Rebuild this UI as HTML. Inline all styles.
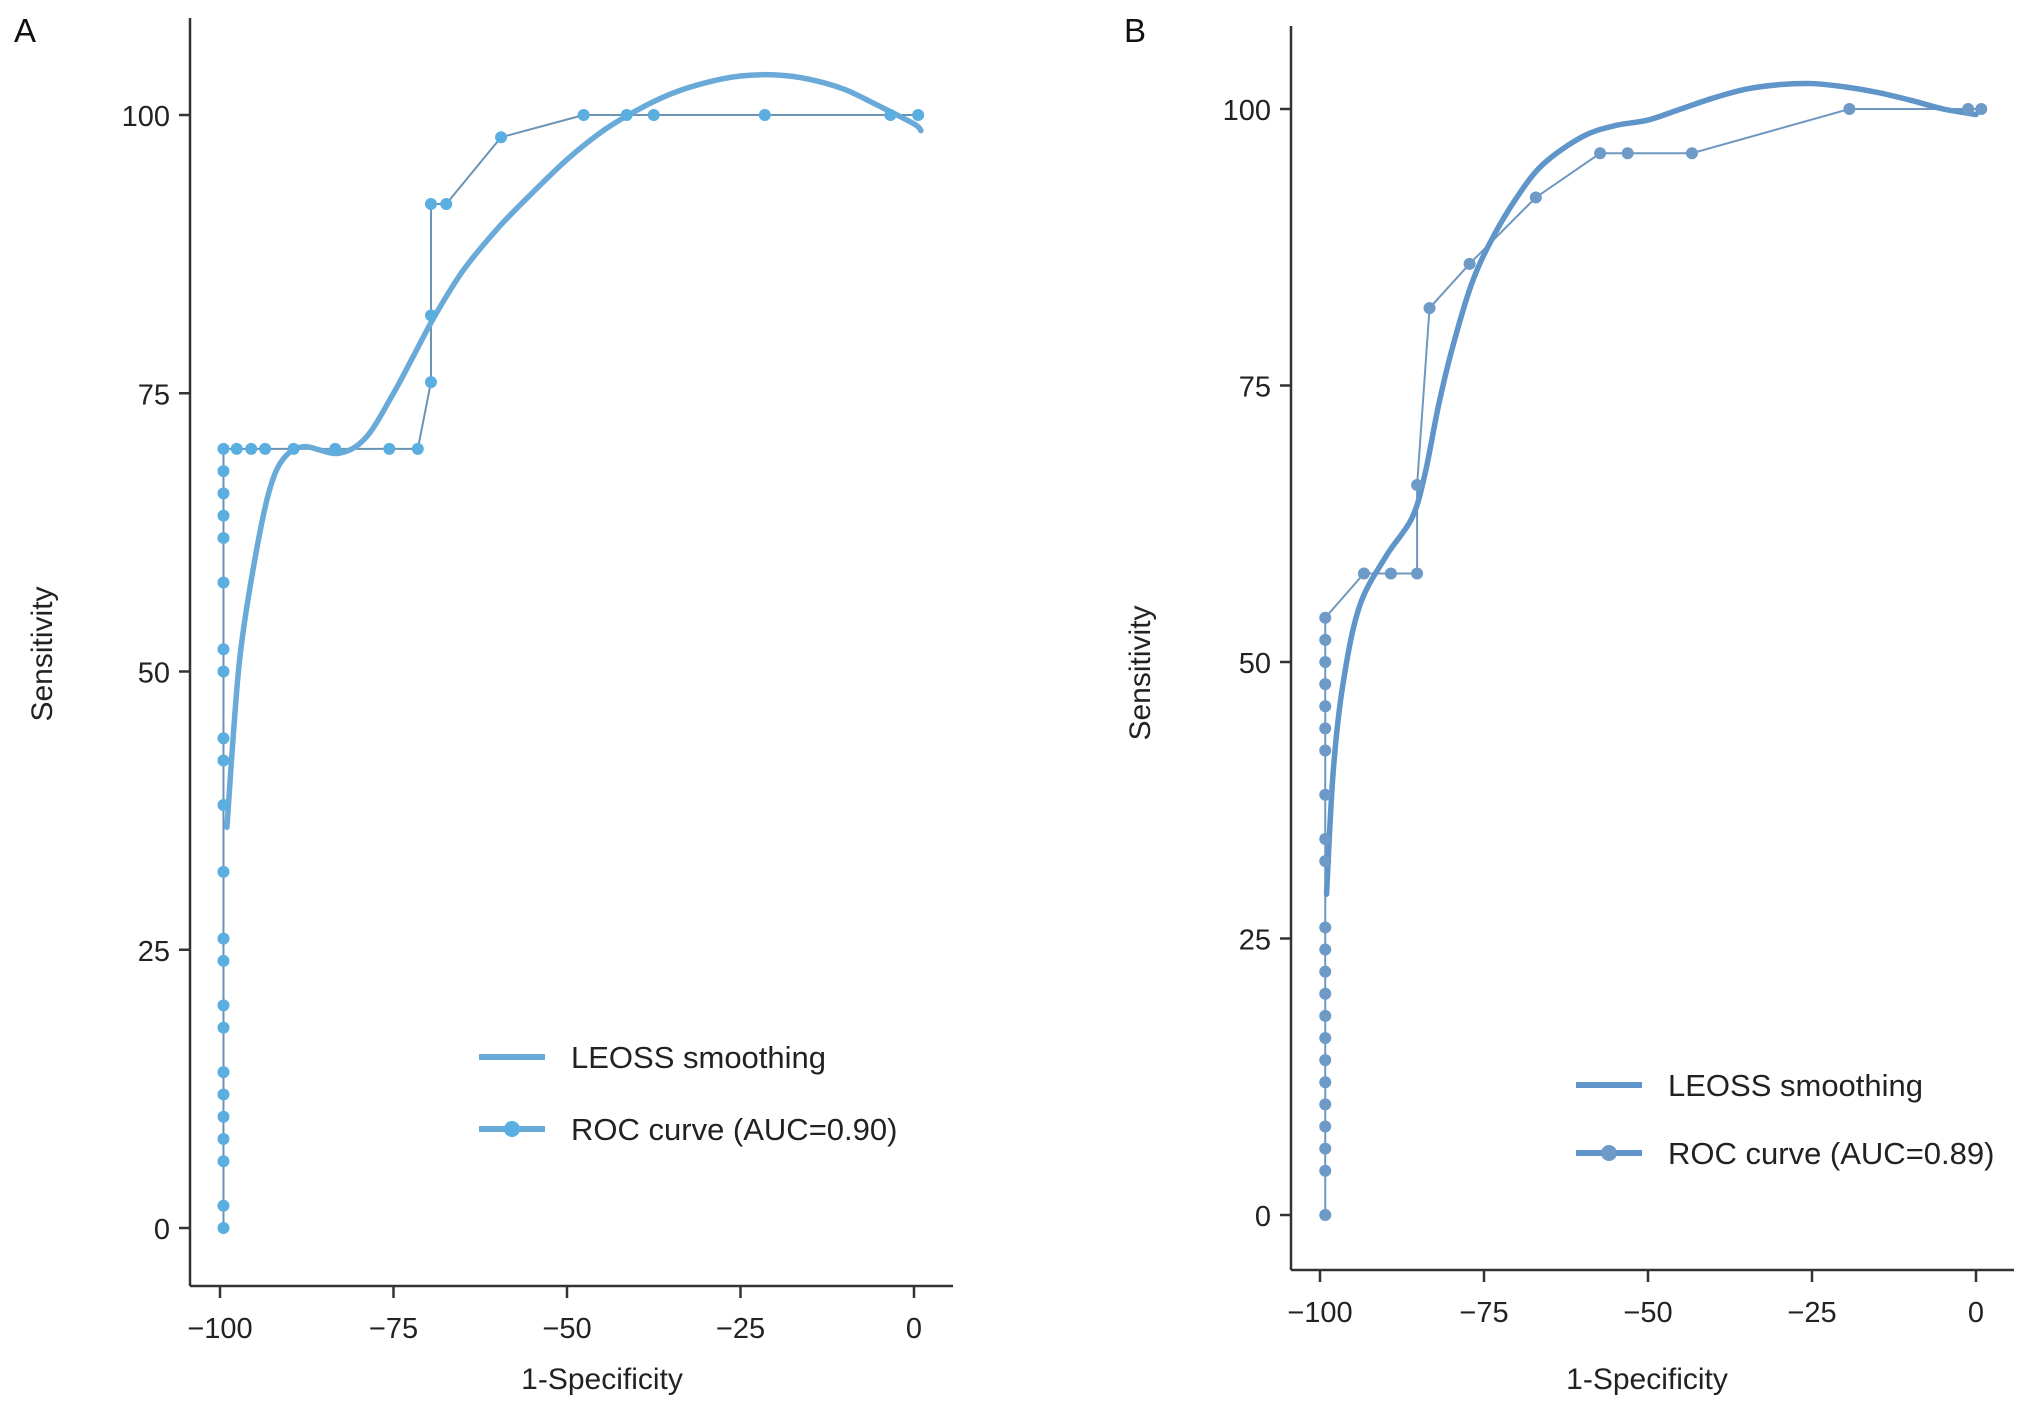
<!DOCTYPE html>
<html><head><meta charset="utf-8"><style>
html,body{margin:0;padding:0;background:#fff;}
svg{display:block;font-family:"Liberation Sans",Arial,sans-serif;}
</style></head><body>
<svg id="chart" width="2031" height="1416" viewBox="0 0 2031 1416"></svg>
<script>
// ---- Panel A data ----
const aRocX = [-99.5,-99.5,-99.5,-99.5,-99.5,-99.5,-99.5,-99.5,-99.5,-99.5,-99.5,-99.5,-99.5,-99.5,-99.5,-99.5,-99.5,-99.5,-99.5,-99.5,-99.5,-99.5,-99.5,-97.6,-95.5,-93.5,-89.4,-83.4,-75.6,-71.5,-69.6,-69.6,-69.6,-67.4,-59.5,-47.6,-41.4,-37.5,-21.5,-3.4,0.6];
const aRocY = [0,2,6,8,10,12,14,18,20,24,26,32,38,42,44,50,52,58,62,64,66,68,70,70,70,70,70,70,70,70,76,82,92,92,98,100,100,100,100,100,100];
const aSmoothX = [-99,-98,-97,-95,-93,-91,-88,-83,-79,-75,-72,-69,-65,-60,-55,-50,-45,-40,-35,-30,-25,-20,-15,-10,-5,0,1];
const aSmoothY = [36,45,52,60,66,69,70.2,69.6,71,75,78.5,82,86,89.8,93,96,98.5,100.4,101.9,102.9,103.5,103.6,103.2,102.3,100.8,99.2,98.6];
// ---- Panel B data ----
const bRocX = [-99.2,-99.2,-99.2,-99.2,-99.2,-99.2,-99.2,-99.2,-99.2,-99.2,-99.2,-99.2,-99.2,-99.2,-99.2,-99.2,-99.2,-99.2,-99.2,-99.2,-99.2,-99.2,-99.2,-93.3,-89.2,-85.2,-85.2,-83.3,-77.2,-67.1,-57.3,-53.1,-43.3,-19.3,-1.2,0.8];
const bRocY = [0,4,6,8,10,12,14,16,18,20,22,24,26,32,34,38,42,44,46,48,50,52,54,58,58,58,66,82,86,92,96,96,96,100,100,100];
const bSmoothX = [-99,-98,-96.5,-94,-90,-86,-84,-82,-80,-77,-74,-70,-66,-60,-55,-50,-45,-40,-35,-30,-25,-20,-15,-10,-5,0];
const bSmoothY = [29,40,48,55,59.5,63,67,73,78,84,88,92,95,97.5,98.5,99,100,101,101.8,102.2,102.3,102,101.5,100.8,100,99.5];
const xTicks = [-100,-75,-50,-25,0];
const yTicks = [0,25,50,75,100];

const NS = "http://www.w3.org/2000/svg";
const svg = document.getElementById('chart');
function mk(tag, attrs, parent){ const e=document.createElementNS(NS,tag); for(const k in attrs) e.setAttribute(k,attrs[k]); (parent||svg).appendChild(e); return e; }
function smoothPath(pts){
  let d = `M${pts[0][0]},${pts[0][1]}`;
  for(let i=0;i<pts.length-1;i++){
    const p0=pts[Math.max(0,i-1)],p1=pts[i],p2=pts[i+1],p3=pts[Math.min(pts.length-1,i+2)];
    const c1=[p1[0]+(p2[0]-p0[0])/6,p1[1]+(p2[1]-p0[1])/6];
    const c2=[p2[0]-(p3[0]-p1[0])/6,p2[1]-(p3[1]-p1[1])/6];
    d+=` C${c1[0]},${c1[1]} ${c2[0]},${c2[1]} ${p2[0]},${p2[1]}`;
  }
  return d;
}
function panel(cfg){
  const g = mk('g',{});
  
  
  const sx = v => cfg.x0 + (v+100)/100*(cfg.x100-cfg.x0);
  const sy = v => cfg.y0 - v/100*(cfg.y0-cfg.y100);
  const ya = mk('line',{x1:cfg.ax,y1:cfg.top,x2:cfg.ax,y2:cfg.bottom,stroke:'#333','stroke-width':2.5},g);
   
  const xa = mk('line',{x1:cfg.ax,y1:cfg.bottom,x2:cfg.right,y2:cfg.bottom,stroke:'#333','stroke-width':2.5},g);
   
  xTicks.forEach(t=>{
    mk('line',{x1:sx(t),y1:cfg.bottom,x2:sx(t),y2:cfg.bottom+12,stroke:'#333','stroke-width':2.5},g);
    const tx = mk('text',{x:sx(t),y:cfg.bottom+52,'text-anchor':'middle','font-size':29,fill:'#222'},g);
    tx.textContent = t===0?'0':'\u2212'+Math.abs(t);
     
  });
  yTicks.forEach(t=>{
    mk('line',{x1:cfg.ax-11,y1:sy(t),x2:cfg.ax,y2:sy(t),stroke:'#333','stroke-width':2.5},g);
    const tx = mk('text',{x:cfg.ax-20,y:sy(t)+11,'text-anchor':'end','font-size':29,fill:'#222'},g);
    tx.textContent = t;
     
  });
  const yt = mk('text',{x:0,y:0,transform:`translate(${cfg.ytx},${cfg.yty}) rotate(-90)`,'text-anchor':'middle','font-size':30,fill:'#222'},g);
  yt.textContent='Sensitivity';  
  const xt = mk('text',{x:cfg.xtx,y:1389,'text-anchor':'middle','font-size':30,fill:'#222'},g);
  xt.textContent='1-Specificity';  
  const pl = mk('text',{x:cfg.lx,y:42,'font-size':33,fill:'#111'},g);
  pl.textContent=cfg.label;  
  const pts = cfg.rx.map((v,i)=>[sx(v),sy(cfg.ry[i])]);
  const rl = mk('polyline',{points:pts.map(p=>p.join(',')).join(' '),fill:'none',stroke:cfg.lineCol,'stroke-width':2},g);
   
  const sp = cfg.sx.map((v,i)=>[sx(v),sy(cfg.sy[i])]);
  const sl = mk('path',{d:smoothPath(sp),fill:'none',stroke:cfg.smoothCol,'stroke-width':5.5,'stroke-linecap':'round'},g);
   
  pts.forEach(p=>{
    const c = mk('circle',{cx:p[0],cy:p[1],r:6,fill:cfg.ptCol},g);
     
  });
  const lg = mk('g',{},g);
   
  mk('line',{x1:cfg.legX,y1:cfg.legY1,x2:cfg.legX+66,y2:cfg.legY1,stroke:cfg.smoothCol,'stroke-width':6},lg);
  const t1 = mk('text',{x:cfg.legX+92,y:cfg.legY1+11,'font-size':31,fill:'#222'},lg);
  t1.textContent='LEOSS smoothing';  
  mk('line',{x1:cfg.legX,y1:cfg.legY2,x2:cfg.legX+66,y2:cfg.legY2,stroke:cfg.smoothCol,'stroke-width':6},lg);
  mk('circle',{cx:cfg.legX+33,cy:cfg.legY2,r:8,fill:cfg.ptCol},lg);
  const t2 = mk('text',{x:cfg.legX+92,y:cfg.legY2+11,'font-size':31,fill:'#222'},lg);
  t2.textContent=cfg.rocLabel;  
}
panel({name:'panel-a',label:'A',lx:14,x0:220,x100:914,y0:1228,y100:115,ax:190,top:18,bottom:1286,right:953,
  ytx:52,yty:654,xtx:602,rx:aRocX,ry:aRocY,sx:aSmoothX,sy:aSmoothY,lineCol:'#6b93b3',smoothCol:'#6aaad8',ptCol:'#5aaee0',
  legX:479,legY1:1057,legY2:1129,rocLabel:'ROC curve (AUC=0.90)'});
panel({name:'panel-b',label:'B',lx:1124,x0:1320,x100:1976,y0:1215,y100:109,ax:1291,top:26,bottom:1270,right:2014,
  ytx:1150,yty:673,xtx:1647,rx:bRocX,ry:bRocY,sx:bSmoothX,sy:bSmoothY,lineCol:'#6f98c0',smoothCol:'#5f95c8',ptCol:'#6d9ac6',
  legX:1576,legY1:1085,legY2:1153,rocLabel:'ROC curve (AUC=0.89)'});
</script>
</body></html>
